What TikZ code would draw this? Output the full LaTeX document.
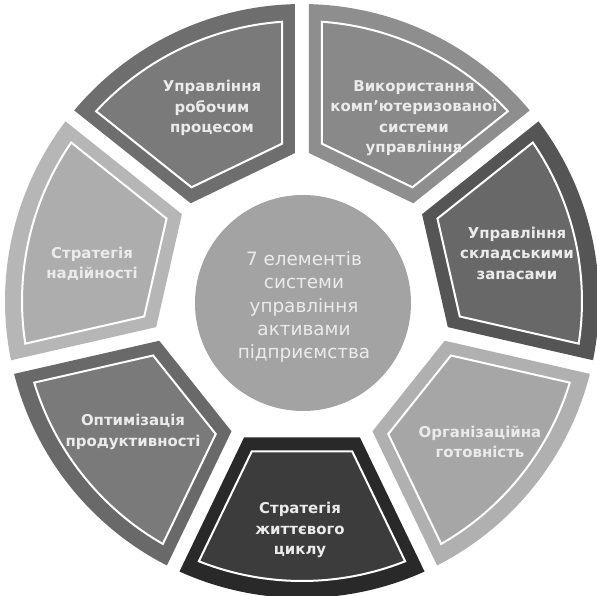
\documentclass[tikz,border=0pt]{standalone}
\usepackage{fontspec}
\setmainfont{DejaVu Sans}
\usetikzlibrary{calc}
\definecolor{txt}{HTML}{EBEBEB}
\definecolor{fA}{HTML}{6E6E6E}\definecolor{iA}{HTML}{7A7A7A}
\definecolor{fB}{HTML}{8E8E8E}\definecolor{iB}{HTML}{898989}
\definecolor{fC}{HTML}{555555}\definecolor{iC}{HTML}{686868}
\definecolor{fD}{HTML}{B0B0B0}\definecolor{iD}{HTML}{A6A6A6}
\definecolor{fE}{HTML}{292929}\definecolor{iE}{HTML}{3C3C3C}
\definecolor{fF}{HTML}{696969}\definecolor{iF}{HTML}{7A7A7A}
\definecolor{fG}{HTML}{B6B6B6}\definecolor{iG}{HTML}{ADADAD}
\definecolor{hub}{HTML}{A3A3A3}
% #1 options, #2 d (side offset), #3 t (inner corner), #4 R (outer radius)
\newcommand\segfill[4]{%
  \pgfmathsetmacro\sgL{#4*cos(asin(#2/#4))}%
  \pgfmathsetmacro\sgA{64.2857+asin(#2/#4)}%
  \pgfmathsetmacro\sgB{115.7143-asin(#2/#4)}%
  \path[#1] ($(64.2857:#3)+(154.2857:#2)$) -- ($(64.2857:\sgL)+(154.2857:#2)$)
    arc[start angle=\sgA, end angle=\sgB, radius=#4]
    -- ($(115.7143:#3)+(25.7143:#2)$) -- cycle;}
\newcommand\segment[3]{%
  \begin{scope}[rotate={#1-90}]
    \segfill{fill=#2}{7}{148}{297}
    \segfill{fill=#3,draw=white,line width=1.5pt}{20}{157.3}{280}
  \end{scope}}
\tikzset{
  segtext/.style={text=txt,align=center,font=\fontsize{11.2pt}{15.4pt}\selectfont\bfseries},
  hubtext/.style={text=txt,align=center,font=\fontsize{13.8pt}{17.5pt}\selectfont}
}
\begin{document}
\begin{tikzpicture}[x=0.75pt,y=0.75pt]
\useasboundingbox (-302,-295) rectangle (295,301);
\clip (-302,-295) rectangle (295,301);
\fill[white] (-302,-295) rectangle (295,301);
\segment{115.7143}{fA}{iA}
\segment{64.2857}{fB}{iB}
\segment{12.8571}{fC}{iC}
\segment{-38.5714}{fD}{iD}
\segment{-90}{fE}{iE}
\segment{-141.4286}{fF}{iF}
\segment{167.1429}{fG}{iG}
\node[circle,fill=hub,minimum size=216*0.75pt,inner sep=0pt] (hub) at (1,-2) {};
\node[hubtext] (hubt) at (2,-6) {7 елементів\\системи\\управління\\активами\\підприємства};
\node[segtext] (s1) at (-90,193) {Управління\\робочим\\процесом};
\node[segtext] (s2) at (112,183) {Використання\\комп’ютеризованої\\системи\\управління};
\node[segtext] (s3) at (215,48) {Управління\\складськими\\запасами};
\node[segtext] (s4) at (178,-141) {Організаційна\\готовність};
\node[segtext] (s5) at (-2,-229) {Стратегія\\життєвого\\циклу};
\node[segtext] (s6) at (-169,-131) {Оптимізація\\продуктивності};
\node[segtext] (s7) at (-210,37) {Стратегія\\надійності};
\end{tikzpicture}
\end{document}
